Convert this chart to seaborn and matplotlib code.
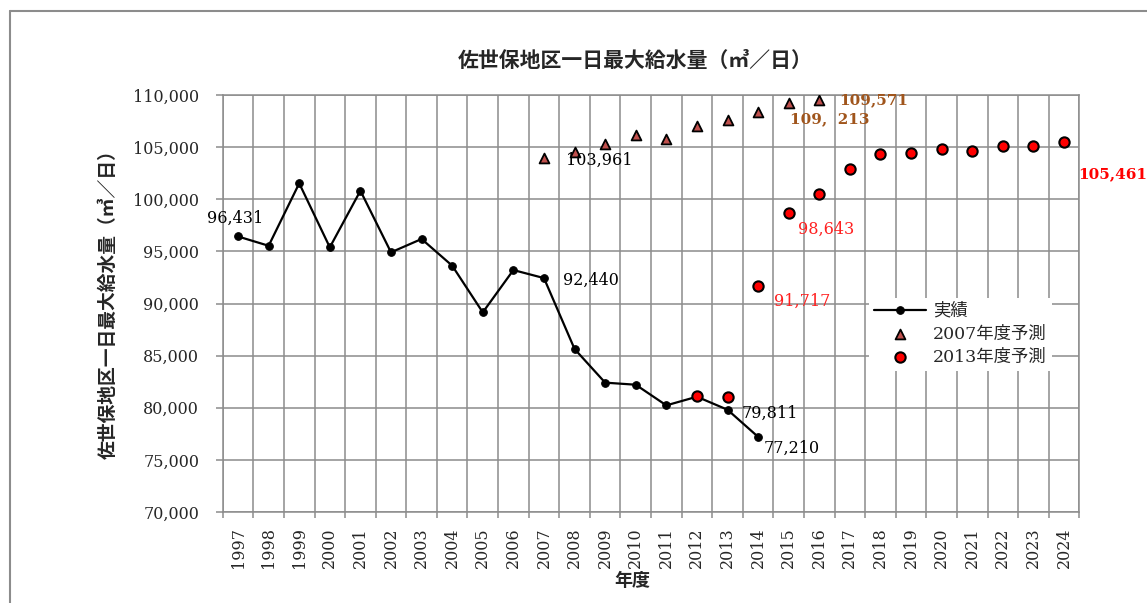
import numpy as np
import pandas as pd
import seaborn as sns
import matplotlib.pyplot as plt
from matplotlib.lines import Line2D
from matplotlib.ticker import FuncFormatter

# data
years = list(range(1997, 2025))

actual_years = list(range(1997, 2015))
actual = [96431, 95540, 101530, 95390, 100820, 94910, 96190, 93630, 89150,
          93210, 92440, 85640, 82410, 82210, 80230, 81060, 79811, 77210]

fc2007_years = list(range(2007, 2017))
fc2007 = [103961, 104560, 105270, 106160, 105750, 107050, 107570, 108400,
          109213, 109571]

fc2013_years = list(range(2012, 2025))
fc2013 = [81130, 81060, 91717, 98643, 100500, 102930, 104370, 104400,
          104850, 104660, 105080, 105140, 105461]

y_ticks = [70000, 75000, 80000, 85000, 90000, 95000, 100000, 105000, 110000]

title = "佐世保地区一日最大給水量（㎥／日）"
ylabel = "佐世保地区一日最大給水量（㎥／日）"
xlabel = "年度"

df_act = pd.DataFrame({"year": actual_years, "value": actual})
df_07 = pd.DataFrame({"year": fc2007_years, "value": fc2007})
df_13 = pd.DataFrame({"year": fc2013_years, "value": fc2013})

sns.set_theme(style="white")
plt.rcParams["font.family"] = ["DejaVu Serif", "Noto Sans CJK JP"]
cjk = ["Noto Sans CJK JP", "DejaVu Sans"]
gray = "#8c8c8c"

fig = plt.figure(figsize=(11.47, 6.03), dpi=100)
ax = fig.add_axes([0.1942, 0.1509, 0.7468, 0.6915])

sns.lineplot(data=df_act, x="year", y="value", ax=ax, color="black", lw=1.6,
             marker="o", markersize=5.5, markeredgecolor="black", label="実績", zorder=4)
sns.scatterplot(data=df_07, x="year", y="value", ax=ax, marker="^", s=50,
                color="#c0504d", edgecolor="black", linewidth=1.3,
                label="2007年度予測", zorder=5)
sns.scatterplot(data=df_13, x="year", y="value", ax=ax, marker="o", s=55,
                color="#ff0000", edgecolor="black", linewidth=1.5,
                label="2013年度予測", zorder=5)

ax.set_xlim(years[0] - 0.5, years[-1] + 0.5)
ax.set_ylim(y_ticks[0], y_ticks[-1])
ax.set_xticks(years)
ax.set_xticklabels([str(y) for y in years], rotation=90, fontsize=11.5)
ax.set_xticks(np.arange(years[0] - 0.5, years[-1] + 1), minor=True)
ax.set_yticks(y_ticks)
ax.yaxis.set_major_formatter(FuncFormatter(lambda v, p: f"{v:,.0f}"))
ax.tick_params(axis="y", labelsize=11.5, length=5, width=1.1, color=gray,
               direction="out", pad=12, left=True)
ax.tick_params(axis="x", which="major", length=0, pad=11)
ax.tick_params(axis="x", which="minor", length=4, width=1.1, color=gray,
               direction="out", bottom=True)
ax.grid(axis="x", which="minor", color=gray, lw=1.1)
ax.grid(axis="y", which="major", color=gray, lw=1.1)
ax.set_axisbelow(True)
for sp in ax.spines.values():
    sp.set_color(gray)
    sp.set_linewidth(1.1)
ax.set_xlabel("")
ax.set_ylabel("")

# value labels
def lab(x, y, txt, dx, dy, color="black", bold=False):
    ax.annotate(txt, xy=(x, y), xytext=(dx, dy), textcoords="offset pixels",
                ha="left", va="center", fontsize=11 if bold else 11.5,
                color=color, fontweight="bold" if bold else "normal",
                zorder=6, annotation_clip=False)

lab(1997, actual[0], "96,431", -31, 18)
lab(2007, fc2007[0], "103,961", 22, -2)
lab(2007, actual[10], "92,440", 19, -2)
lab(2013, actual[16], "79,811", 14, -4)
lab(2014, actual[17], "77,210", 6, -11)
lab(2014, fc2013[2], "91,717", 16, -16, color="#ff2020")
lab(2015, fc2013[3], "98,643", 9, -16, color="#ff2020")
lab(2015, fc2007[8], "109,  213", 1, -16, color="#a0551c", bold=True)
lab(2016, fc2007[9], "109,571", 20, -1, color="#a0551c", bold=True)
lab(2024, fc2013[-1], "105,461", 14, -32, color="#ff0000", bold=True)

leg = ax.legend(loc="upper left", bbox_to_anchor=(0.744, 0.535), frameon=True,
                fancybox=False, edgecolor="none", facecolor="white",
                framealpha=1, fontsize=12.5, handlelength=3, borderpad=0.3,
                labelspacing=0.35, handletextpad=0.4)

fig.text(635 / 1147, 1 - 60 / 603, title, ha="center", va="center",
         fontsize=15, fontweight="bold", family=cjk)
fig.text(108 / 1147, 1 - 300 / 603, ylabel, ha="center", va="center",
         rotation=90, fontsize=13.5, fontweight="bold", family=cjk)
fig.text(632 / 1147, 1 - 580 / 603, xlabel, ha="center", va="center",
         fontsize=13, fontweight="bold", family=cjk)

# outer chart border (cropped on right and bottom)
fig.add_artist(Line2D([10 / 1147, 10 / 1147], [0, 1 - 11 / 603],
                      transform=fig.transFigure, color=gray, lw=1.5))
fig.add_artist(Line2D([10 / 1147, 1], [1 - 11 / 603, 1 - 11 / 603],
                      transform=fig.transFigure, color=gray, lw=1.5))

fig.savefig("out.png", dpi=100)
